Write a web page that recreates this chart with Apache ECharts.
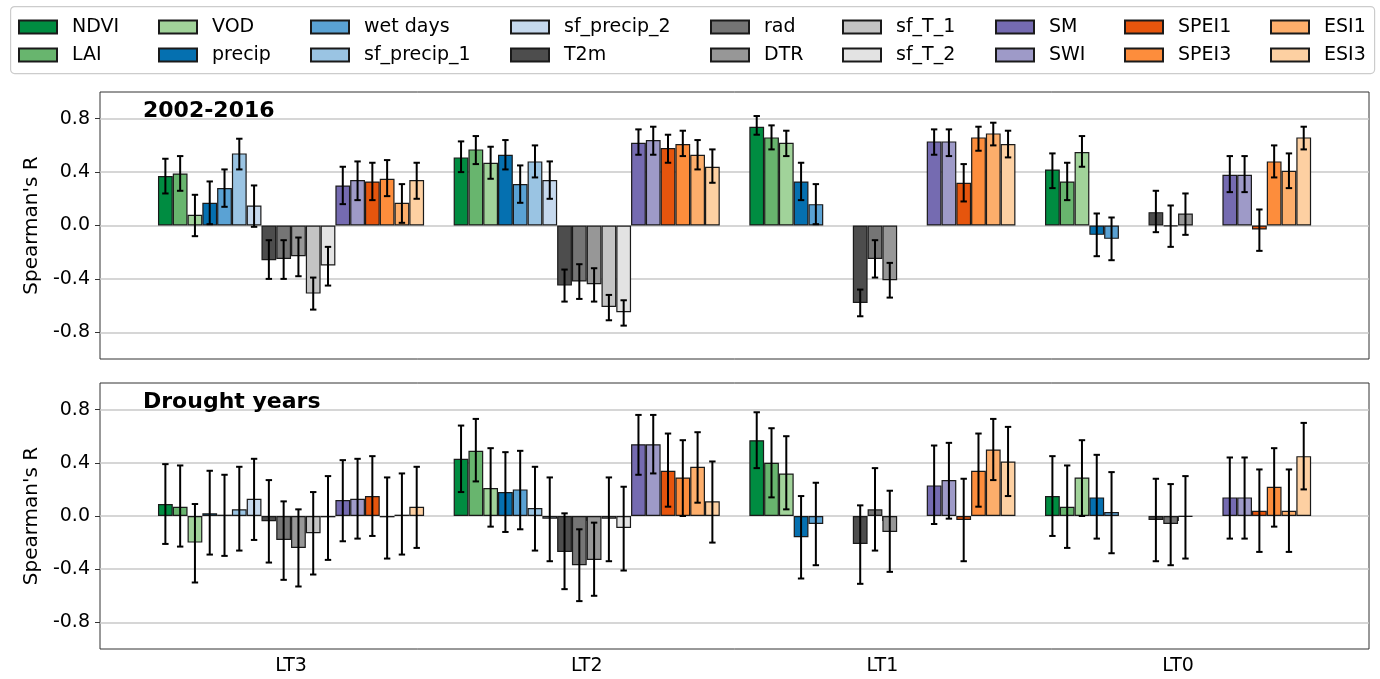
<!DOCTYPE html>
<html><head><meta charset="utf-8">
<script src="https://cdn.jsdelivr.net/npm/echarts@6/dist/echarts.min.js"></script>
<style>html,body{margin:0;padding:0;background:#fff}#c{width:1380px;height:679px}</style>
</head><body><div id="c"></div>
<script>
const categories = ['LT3', 'LT2', 'LT1', 'LT0'];
const seriesNames = ['NDVI','LAI','VOD','precip','wet days','sf_precip_1','sf_precip_2','T2m','rad','DTR','sf_T_1','sf_T_2','SM','SWI','SPEI1','SPEI3','ESI1','ESI3'];
const seriesColors = ['#008c41','#68b56e','#a1d39a','#0570b0','#5aa2d4','#9ac4e3','#c6d9ee','#4d4d4d','#757575','#979797','#c4c4c4','#e3e3e3','#756bb1','#9e9ac8','#e6550d','#fd8d3c','#fdae6b','#fdd0a2'];
const yTicks = [-0.8, -0.4, 0.0, 0.4, 0.8];

// Panel 1: 2002-2016 (value, lower, upper) per lead time, in seriesNames order
const all_LT3 = [0.37, 0.39, 0.08, 0.17, 0.28, 0.54, 0.15, -0.26, -0.25, -0.23, -0.51, -0.30, 0.30, 0.34, 0.33, 0.35, 0.17, 0.34];
const all_LT3_lo = [0.24, 0.26, -0.08, 0.01, 0.14, 0.42, -0.01, -0.40, -0.40, -0.38, -0.63, -0.45, 0.16, 0.19, 0.19, 0.22, 0.02, 0.20];
const all_LT3_hi = [0.50, 0.52, 0.23, 0.33, 0.42, 0.65, 0.30, -0.11, -0.11, -0.09, -0.39, -0.16, 0.44, 0.48, 0.47, 0.49, 0.31, 0.47];
const all_LT2 = [0.51, 0.57, 0.47, 0.53, 0.31, 0.48, 0.34, -0.45, -0.42, -0.44, -0.61, -0.65, 0.62, 0.64, 0.58, 0.61, 0.53, 0.44];
const all_LT2_lo = [0.40, 0.46, 0.35, 0.42, 0.17, 0.36, 0.20, -0.57, -0.55, -0.57, -0.71, -0.75, 0.53, 0.53, 0.47, 0.52, 0.42, 0.32];
const all_LT2_hi = [0.63, 0.67, 0.59, 0.64, 0.45, 0.60, 0.48, -0.33, -0.29, -0.32, -0.52, -0.56, 0.72, 0.74, 0.68, 0.71, 0.64, 0.57];
const all_LT1 = [0.74, 0.66, 0.62, 0.33, 0.16, null, null, -0.58, -0.25, -0.41, null, null, 0.63, 0.63, 0.32, 0.66, 0.69, 0.61];
const all_LT1_lo = [0.68, 0.57, 0.52, 0.19, 0.01, null, null, -0.68, -0.39, -0.54, null, null, 0.53, 0.52, 0.18, 0.56, 0.60, 0.51];
const all_LT1_hi = [0.82, 0.75, 0.71, 0.47, 0.31, null, null, -0.48, -0.11, -0.28, null, null, 0.72, 0.72, 0.46, 0.74, 0.77, 0.71];
const all_LT0 = [0.42, 0.33, 0.55, -0.07, -0.10, null, null, 0.10, -0.005, 0.09, null, null, 0.38, 0.38, -0.03, 0.48, 0.41, 0.66];
const all_LT0_lo = [0.28, 0.19, 0.44, -0.23, -0.26, null, null, -0.05, -0.16, -0.07, null, null, 0.25, 0.25, -0.19, 0.36, 0.28, 0.57];
const all_LT0_hi = [0.54, 0.47, 0.67, 0.09, 0.06, null, null, 0.26, 0.15, 0.24, null, null, 0.52, 0.52, 0.12, 0.60, 0.54, 0.74];

// Panel 2: Drought years
const dry_LT3 = [0.09, 0.07, -0.20, 0.02, 0.01, 0.05, 0.13, -0.04, -0.18, -0.24, -0.13, -0.01, 0.12, 0.13, 0.15, -0.01, 0.01, 0.07];
const dry_LT3_lo = [-0.21, -0.23, -0.50, -0.29, -0.30, -0.26, -0.18, -0.35, -0.48, -0.53, -0.44, -0.33, -0.19, -0.17, -0.15, -0.32, -0.29, -0.24];
const dry_LT3_hi = [0.39, 0.38, 0.09, 0.34, 0.31, 0.37, 0.43, 0.27, 0.11, 0.05, 0.18, 0.30, 0.42, 0.43, 0.45, 0.29, 0.32, 0.37];
const dry_LT2 = [0.43, 0.49, 0.21, 0.18, 0.20, 0.06, -0.02, -0.27, -0.37, -0.33, -0.02, -0.09, 0.54, 0.54, 0.34, 0.29, 0.37, 0.11];
const dry_LT2_lo = [0.18, 0.26, -0.08, -0.12, -0.10, -0.26, -0.34, -0.55, -0.64, -0.60, -0.34, -0.41, 0.31, 0.32, 0.07, 0.00, 0.10, -0.20];
const dry_LT2_hi = [0.68, 0.73, 0.51, 0.48, 0.49, 0.37, 0.29, 0.02, -0.10, -0.05, 0.29, 0.22, 0.76, 0.76, 0.62, 0.57, 0.63, 0.41];
const dry_LT1 = [0.57, 0.40, 0.32, -0.16, -0.06, null, null, -0.21, 0.05, -0.12, null, null, 0.23, 0.27, -0.03, 0.34, 0.50, 0.41];
const dry_LT1_lo = [0.36, 0.14, 0.05, -0.47, -0.37, null, null, -0.51, -0.26, -0.42, null, null, -0.06, -0.02, -0.34, 0.07, 0.27, 0.15];
const dry_LT1_hi = [0.78, 0.66, 0.60, 0.15, 0.25, null, null, 0.08, 0.36, 0.19, null, null, 0.53, 0.55, 0.28, 0.62, 0.73, 0.67];
const dry_LT0 = [0.15, 0.07, 0.29, 0.14, 0.03, null, null, -0.03, -0.06, -0.005, null, null, 0.14, 0.14, 0.04, 0.22, 0.04, 0.45];
const dry_LT0_lo = [-0.15, -0.24, 0.00, -0.17, -0.28, null, null, -0.34, -0.37, -0.32, null, null, -0.17, -0.17, -0.27, -0.08, -0.27, 0.20];
const dry_LT0_hi = [0.45, 0.38, 0.57, 0.46, 0.33, null, null, 0.28, 0.24, 0.30, null, null, 0.44, 0.44, 0.35, 0.51, 0.35, 0.70];

const panels = [
  { title: '2002-2016', R: [all_LT3, all_LT2, all_LT1, all_LT0], lo: [all_LT3_lo, all_LT2_lo, all_LT1_lo, all_LT0_lo], hi: [all_LT3_hi, all_LT2_hi, all_LT1_hi, all_LT0_hi] },
  { title: 'Drought years', R: [dry_LT3, dry_LT2, dry_LT1, dry_LT0], lo: [dry_LT3_lo, dry_LT2_lo, dry_LT1_lo, dry_LT0_lo], hi: [dry_LT3_hi, dry_LT2_hi, dry_LT1_hi, dry_LT0_hi] }
];

const FONT = 'DejaVu Sans';
const N = seriesNames.length;
const CAT_GAP = 0.10;
const panelTop = [92, 383];
const panelH = [267, 266];
const outerLeft = 100, outerW = 1269;
const innerLeft = 143.2, innerW = 1182.7;

const grids = [], xAxes = [], yAxes = [], series = [], titles = [];

panels.forEach((p, pi) => {
  grids.push({ left: outerLeft, top: panelTop[pi], width: outerW, height: panelH[pi], show: true, borderColor: '#333', borderWidth: 1, backgroundColor: 'transparent' });
  grids.push({ left: innerLeft, top: panelTop[pi], width: innerW, height: panelH[pi] });
  const og = pi * 2, ig = pi * 2 + 1;
  xAxes.push({ gridIndex: og, type: 'value', min: 0, max: 1, show: false });
  xAxes.push({
    gridIndex: ig, type: 'category', data: categories,
    axisLine: { show: false },
    axisTick: { show: pi === 1, alignWithLabel: true, length: 5, lineStyle: { color: '#333', width: 1 } },
    axisLabel: { show: pi === 1, fontSize: 19, color: '#000', margin: 8, fontFamily: FONT },
    splitLine: { show: false }
  });
  yAxes.push({
    gridIndex: og, type: 'value', min: -1, max: 1,
    name: "Spearman's R", nameLocation: 'middle', nameGap: 53,
    nameTextStyle: { fontSize: 20, color: '#000', fontFamily: FONT },
    axisLine: { show: false },
    axisTick: { show: true, length: 5, customValues: yTicks, lineStyle: { color: '#333', width: 1 } },
    axisLabel: { customValues: yTicks, fontSize: 19, color: '#000', margin: 10, fontFamily: FONT, formatter: v => Number(v).toFixed(1) },
    splitLine: { show: true, lineStyle: { color: '#c8c8c8', width: 1.5 } }
  });
  yAxes.push({ gridIndex: ig, type: 'value', min: -1, max: 1, show: false, splitLine: { show: false } });

  seriesNames.forEach((name, si) => {
    series.push({
      name, type: 'bar', xAxisIndex: ig, yAxisIndex: ig,
      barGap: '0%', barCategoryGap: (CAT_GAP * 100) + '%',
      itemStyle: { color: seriesColors[si], borderColor: '#1a1a1a', borderWidth: 1.2 },
      data: categories.map((c, ci) => p.R[ci][si]),
      emphasis: { disabled: true }, z: 2
    });
  });

  const errData = [];
  categories.forEach((c, ci) => {
    seriesNames.forEach((name, si) => {
      if (p.R[ci][si] !== null) errData.push([ci, si, p.lo[ci][si], p.hi[ci][si]]);
    });
  });
  series.push({
    name: 'err' + pi, type: 'custom', xAxisIndex: ig, yAxisIndex: ig, z: 5,
    encode: { x: 0, y: 2 },
    data: errData,
    renderItem: (params, api) => {
      const ci = api.value(0), si = api.value(1);
      const c = api.coord([ci, 0]);
      const band = api.size([1, 0])[0];
      const bw = band * (1 - CAT_GAP) / N;
      const x = c[0] + (si - (N - 1) / 2) * bw;
      const y1 = api.coord([ci, api.value(2)])[1];
      const y2 = api.coord([ci, api.value(3)])[1];
      const cap = 3.2;
      const st = { stroke: '#000', lineWidth: 2 };
      return { type: 'group', children: [
        { type: 'line', shape: { x1: x, y1: y1, x2: x, y2: y2 }, style: st },
        { type: 'line', shape: { x1: x - cap, y1: y1, x2: x + cap, y2: y1 }, style: st },
        { type: 'line', shape: { x1: x - cap, y1: y2, x2: x + cap, y2: y2 }, style: st }
      ]};
    }
  });

  titles.push({ text: p.title, left: 143, top: panelTop[pi] + 8, padding: 0,
    textStyle: { fontSize: 22, fontWeight: 'bold', color: '#000', fontFamily: FONT } });
});

const legendLeft = [18, 158, 310, 510, 710, 842, 995, 1124, 1270];
const legends = legendLeft.map((x, k) => ({
  orient: 'vertical', left: x, top: 17, padding: 0,
  itemWidth: 38, itemHeight: 13, itemGap: 8,
  icon: 'rect', selectedMode: false,
  data: [seriesNames[2 * k], seriesNames[2 * k + 1]],
  textStyle: { fontSize: 19, color: '#000', fontFamily: FONT, lineHeight: 20, padding: [0, 0, 0, 10] }
}));

const chart = echarts.init(document.getElementById('c'), null, { renderer: 'canvas' });
chart.setOption({
  animation: false,
  backgroundColor: '#fff',
  textStyle: { fontFamily: FONT },
  title: titles,
  legend: legends,
  graphic: [{ type: 'rect', left: 10, top: 6, z: -1, shape: { width: 1364, height: 67, r: 4 }, style: { fill: '#fff', stroke: '#cccccc', lineWidth: 1.2 } }],
  grid: grids, xAxis: xAxes, yAxis: yAxes, series
});
</script></body></html>
